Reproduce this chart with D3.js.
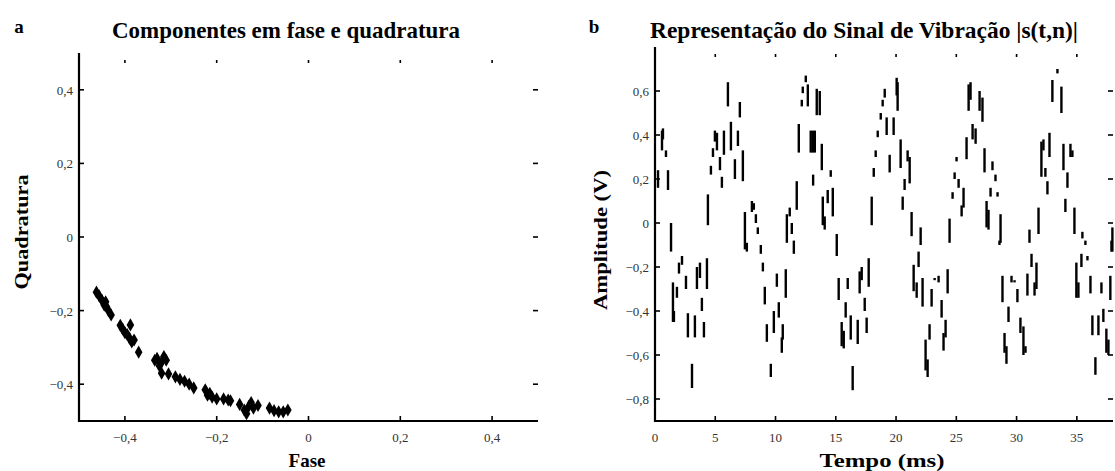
<!DOCTYPE html>
<html>
<head>
<meta charset="utf-8">
<script src="https://cdn.jsdelivr.net/npm/d3@7"></script>
<style>
  body { margin: 0; background: #fff; }
  svg text { font-family: "Liberation Serif", "DejaVu Serif", serif; fill: #000; }
</style>
</head>
<body>
<svg id="chart" width="1115" height="471"></svg>
<script>
// panel a: in-phase / quadrature points
var faseI = [-0.462, -0.456, -0.45, -0.445, -0.44, -0.436, -0.43, -0.442,
  -0.41, -0.405, -0.4, -0.395, -0.39, -0.385, -0.38, -0.388, -0.37,
  -0.335, -0.33, -0.32, -0.315, -0.31, -0.325,
  -0.32, -0.305, -0.29, -0.28, -0.27,
  -0.26, -0.25,
  -0.225, -0.215, -0.21, -0.2, -0.22,
  -0.185, -0.175, -0.17,
  -0.15, -0.14, -0.13, -0.12, -0.11, -0.135, -0.125,
  -0.085, -0.075, -0.065, -0.055, -0.045];
var quadQ = [-0.15, -0.16, -0.172, -0.185, -0.19, -0.2, -0.212, -0.176,
  -0.24, -0.25, -0.26, -0.265, -0.275, -0.285, -0.28, -0.239, -0.313,
  -0.335, -0.33, -0.34, -0.325, -0.335, -0.35,
  -0.37, -0.372, -0.38, -0.387, -0.392,
  -0.4, -0.41,
  -0.415, -0.425, -0.435, -0.44, -0.43,
  -0.44, -0.443, -0.445,
  -0.455, -0.47, -0.46, -0.465, -0.458, -0.48, -0.45,
  -0.465, -0.472, -0.475, -0.475, -0.47];
var faseTicks = [-0.4, -0.2, 0, 0.2, 0.4];
var quadTicks = [-0.4, -0.2, 0, 0.2, 0.4];

// panel b: vibration signal, one vertical stroke per sample (time, top, bottom)
var tempo = [0.25, 0.58, 0.66, 0.91, 1.08, 1.33, 1.49, 1.57, 1.82, 1.99, 2.24, 2.57, 2.73, 3.07, 3.31,
  3.48, 3.73, 3.89, 4.06, 4.31, 4.39, 4.64, 4.81, 4.97, 5.14, 5.39, 5.55, 5.72, 6.05, 6.30,
  6.63, 6.88, 7.04, 7.29, 7.46, 7.62, 8.04, 8.20, 8.37, 8.53, 8.78, 8.95, 9.11, 9.28, 9.61,
  9.86, 10.11, 10.27, 10.52, 10.60, 10.85, 10.94, 11.18, 11.35, 11.52, 11.76, 11.93, 12.18, 12.26, 12.51,
  12.68, 12.92, 13.09, 13.12, 13.26, 13.42, 13.67, 13.84, 13.92, 14.08, 14.33, 14.58, 14.75, 15.08, 15.24,
  15.49, 15.66, 15.82, 15.99, 16.24, 16.40, 16.82, 16.98, 17.15, 17.40, 17.56, 17.73, 17.98, 18.15, 18.31,
  18.48, 18.73, 18.89, 19.06, 19.22, 19.47, 19.80, 20.05, 20.13, 20.38, 20.55, 20.71, 20.96, 21.13, 21.29,
  21.46, 21.71, 21.87, 22.04, 22.20, 22.45, 22.62, 22.78, 22.95, 23.20, 23.53, 23.78, 23.94, 24.11, 24.28,
  24.44, 24.69, 24.86, 25.02, 25.19, 25.44, 25.60, 25.85, 26.02, 26.18, 26.35, 26.60, 26.93, 27.17, 27.34,
  27.51, 27.67, 27.84, 28.00, 28.25, 28.42, 28.58, 28.67, 28.83, 29.00, 29.16, 29.33, 29.58, 29.83, 30.07,
  30.32, 30.57, 30.74, 30.90, 31.07, 31.24, 31.49, 31.65, 31.82, 32.06, 32.23, 32.39, 32.56, 32.73, 32.97,
  33.39, 33.72, 33.89, 34.05, 34.22, 34.47, 34.63, 34.80, 34.96, 35.13, 35.38, 35.46, 35.71, 35.88, 36.13,
  36.29, 36.54, 36.79, 37.04, 37.20, 37.45, 37.62, 37.78, 37.87, 37.95];
var ampTop = [0.24, 0.42, 0.43, 0.33, 0.24, 0.00, -0.27, -0.40, -0.29, -0.18, -0.15, -0.24, -0.41, -0.64, -0.42,
  -0.20, -0.18, -0.34, -0.45, -0.16, 0.13, 0.26, 0.34, 0.42, 0.41, 0.30, 0.21, 0.42, 0.64, 0.46,
  0.29, 0.42, 0.55, 0.33, 0.05, -0.09, 0.10, 0.09, 0.04, -0.02, -0.10, -0.18, -0.29, -0.46, -0.64,
  -0.40, -0.23, -0.36, -0.52, -0.46, -0.21, 0.04, 0.07, 0.00, -0.08, 0.19, 0.45, 0.56, 0.62, 0.67,
  0.63, 0.42, 0.42, 0.22, 0.42, 0.61, 0.60, 0.36, 0.12, 0.03, 0.15, 0.24, 0.16, -0.05, -0.25,
  -0.45, -0.49, -0.36, -0.25, -0.42, -0.65, -0.44, -0.22, -0.20, -0.34, -0.43, -0.16, 0.12, 0.25, 0.33,
  0.42, 0.50, 0.56, 0.61, 0.48, 0.31, 0.48, 0.66, 0.64, 0.38, 0.12, 0.20, 0.33, 0.30, 0.05,
  -0.19, -0.27, -0.13, -0.02, -0.25, -0.53, -0.62, -0.46, -0.30, -0.25, -0.24, -0.35, -0.50, -0.44, -0.21,
  0.02, 0.14, 0.23, 0.30, 0.20, 0.08, 0.16, 0.39, 0.63, 0.64, 0.45, 0.43, 0.60, 0.57, 0.34,
  0.10, 0.06, 0.16, 0.28, 0.22, 0.14, -0.08, 0.04, -0.24, -0.50, -0.56, -0.38, -0.24, -0.26, -0.30,
  -0.43, -0.47, -0.56, -0.23, -0.03, -0.14, -0.27, -0.18, 0.07, 0.37, 0.38, 0.25, 0.19, 0.41, 0.65,
  0.70, 0.62, 0.36, 0.11, 0.23, 0.36, 0.33, 0.07, -0.18, -0.27, -0.14, -0.04, -0.08, -0.15, -0.24,
  -0.42, -0.61, -0.42, -0.27, -0.39, -0.48, -0.53, -0.24, -0.08, -0.02];
var ampBot = [0.16, 0.33, 0.38, 0.30, 0.15, -0.13, -0.45, -0.45, -0.34, -0.23, -0.19, -0.30, -0.52, -0.75, -0.52,
  -0.30, -0.25, -0.40, -0.52, -0.30, -0.01, 0.22, 0.30, 0.37, 0.33, 0.24, 0.16, 0.31, 0.53, 0.33,
  0.20, 0.35, 0.48, 0.19, -0.12, -0.13, 0.05, 0.06, 0.00, -0.05, -0.14, -0.22, -0.37, -0.54, -0.70,
  -0.50, -0.29, -0.43, -0.59, -0.53, -0.34, -0.09, 0.03, -0.05, -0.14, 0.06, 0.32, 0.53, 0.59, 0.64,
  0.53, 0.32, 0.32, 0.17, 0.32, 0.49, 0.49, 0.24, -0.01, -0.03, 0.09, 0.21, 0.03, -0.15, -0.35,
  -0.56, -0.57, -0.43, -0.30, -0.53, -0.76, -0.55, -0.32, -0.26, -0.40, -0.50, -0.29, -0.01, 0.21, 0.30,
  0.39, 0.47, 0.53, 0.57, 0.40, 0.23, 0.40, 0.58, 0.51, 0.25, 0.06, 0.15, 0.28, 0.18, -0.06,
  -0.31, -0.34, -0.20, -0.10, -0.38, -0.67, -0.70, -0.53, -0.38, -0.26, -0.27, -0.43, -0.58, -0.52, -0.32,
  -0.09, 0.11, 0.20, 0.28, 0.16, 0.03, 0.07, 0.29, 0.51, 0.56, 0.38, 0.36, 0.51, 0.46, 0.23,
  -0.02, -0.03, 0.12, 0.24, 0.19, 0.12, -0.10, -0.09, -0.36, -0.59, -0.64, -0.45, -0.27, -0.27, -0.36,
  -0.50, -0.60, -0.59, -0.33, -0.09, -0.20, -0.33, -0.30, -0.05, 0.21, 0.33, 0.21, 0.13, 0.30, 0.55,
  0.68, 0.50, 0.24, 0.05, 0.16, 0.30, 0.30, -0.05, -0.34, -0.34, -0.20, -0.07, -0.10, -0.17, -0.32,
  -0.51, -0.69, -0.51, -0.32, -0.45, -0.59, -0.60, -0.35, -0.13, -0.13];
var tempoTicks = [0, 5, 10, 15, 20, 25, 30, 35];
var ampTicks = [-0.8, -0.6, -0.4, -0.2, 0, 0.2, 0.4, 0.6];

var svg = d3.select("#chart");
var virgula = function(d) { return d3.format("")(d).replace(".", ","); };

function drawAxes(g, x, y, xTicks, yTicks) {
    var x0 = x.range()[0], x1 = x.range()[1];
    var y0 = y.range()[0], y1 = y.range()[1];

    // ticks on all four sides, pointing inward
    g.append("g").selectAll("line.xb").data(xTicks).enter().append("line")
        .attr("x1", x).attr("x2", x).attr("y1", y0).attr("y2", y0 - 5);
    g.append("g").selectAll("line.xt").data(xTicks).enter().append("line")
        .attr("x1", x).attr("x2", x).attr("y1", y1 + 7).attr("y2", y1 + 10);
    g.append("g").selectAll("line.yl").data(yTicks).enter().append("line")
        .attr("x1", x0).attr("x2", x0 + 5).attr("y1", y).attr("y2", y);
    g.append("g").selectAll("line.yr").data(yTicks).enter().append("line")
        .attr("x1", x1).attr("x2", x1 - 5).attr("y1", y).attr("y2", y);
    g.selectAll("line").attr("stroke", "#000").attr("stroke-width", 1.6);

    g.append("path")
        .attr("d", "M" + x0 + "," + y1 + "V" + y0 + "H" + x1)
        .attr("fill", "none").attr("stroke", "#000").attr("stroke-width", 2.2);

    g.append("g").selectAll("text").data(xTicks).enter().append("text")
        .attr("x", x).attr("y", y0 + 21)
        .attr("text-anchor", "middle").attr("font-size", 13).style("fill", "#333")
        .text(virgula);
    g.append("g").selectAll("text").data(yTicks).enter().append("text")
        .attr("x", x0 - 6).attr("y", function(d) { return y(d) + 5; })
        .attr("text-anchor", "end").attr("font-size", 13).style("fill", "#333")
        .text(virgula);
}

function title(txt, cx, cy, len, size) {
    svg.append("text").attr("x", cx).attr("y", cy)
        .attr("text-anchor", "middle").attr("font-size", size).attr("font-weight", "bold")
        .attr("textLength", len).attr("lengthAdjust", "spacingAndGlyphs")
        .text(txt);
}

// ---- panel a
var xa = d3.scaleLinear().domain([-0.5, 0.5]).range([79, 538]);
var ya = d3.scaleLinear().domain([-0.5, 0.5]).range([421, 53]);
var ga = svg.append("g");
drawAxes(ga, xa, ya, faseTicks, quadTicks);

ga.append("g").selectAll("path").data(d3.range(faseI.length)).enter().append("path")
    .attr("transform", function(i) { return "translate(" + xa(faseI[i]) + "," + ya(quadQ[i]) + ")"; })
    .attr("d", d3.symbol().type(d3.symbolDiamond).size(50))
    .attr("fill", "#000");

title("Componentes em fase e quadratura", 286, 38, 348, 23);
svg.append("text").attr("x", 19).attr("y", 33).attr("text-anchor", "middle")
    .attr("font-size", 19).attr("font-weight", "bold").text("a");
svg.append("text").attr("transform", "translate(28,232) rotate(-90)")
    .attr("text-anchor", "middle").attr("font-size", 18).attr("font-weight", "bold")
    .attr("textLength", 115).attr("lengthAdjust", "spacingAndGlyphs").text("Quadratura");
svg.append("text").attr("x", 307).attr("y", 467).attr("text-anchor", "middle")
    .attr("font-size", 19).attr("font-weight", "bold").text("Fase");

// ---- panel b
var xb = d3.scaleLinear().domain([0, 38]).range([655, 1113]);
var yb = d3.scaleLinear().domain([-0.9, 0.8]).range([421, 47]);
var gb = svg.append("g");
drawAxes(gb, xb, yb, tempoTicks, ampTicks);

gb.append("g").selectAll("line").data(d3.range(tempo.length)).enter().append("line")
    .attr("x1", function(i) { return xb(tempo[i]); })
    .attr("x2", function(i) { return xb(tempo[i]); })
    .attr("y1", function(i) { return yb(ampTop[i]); })
    .attr("y2", function(i) { return yb(ampBot[i]); })
    .attr("stroke", "#000").attr("stroke-width", 2.4);

title("Representação do Sinal de Vibração |s(t,n)|", 864, 38, 428, 23);
svg.append("text").attr("x", 594).attr("y", 33).attr("text-anchor", "middle")
    .attr("font-size", 19).attr("font-weight", "bold").text("b");
svg.append("text").attr("transform", "translate(607,240) rotate(-90)")
    .attr("text-anchor", "middle").attr("font-size", 18).attr("font-weight", "bold")
    .attr("textLength", 140).attr("lengthAdjust", "spacingAndGlyphs").text("Amplitude (V)");
svg.append("text").attr("x", 882).attr("y", 467).attr("text-anchor", "middle")
    .attr("font-size", 19).attr("font-weight", "bold")
    .attr("textLength", 125).attr("lengthAdjust", "spacingAndGlyphs").text("Tempo (ms)");
</script>
</body>
</html>
